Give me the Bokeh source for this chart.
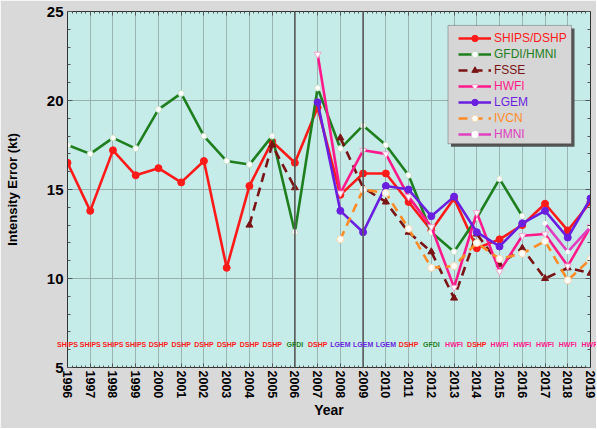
import math
from bokeh.plotting import figure
from bokeh.models import (Range1d, SingleIntervalTicker, LinearAxis, Legend, LegendItem,
                          BoxAnnotation, Span, CustomJSTickFormatter, Label)
from bokeh.embed import file_html
from bokeh.resources import INLINE

nan = float("nan")

years = list(range(1996, 2020))

ships_dshp = [16.5, 13.8, 17.2, 15.8, 16.2, 15.4, 16.6, 10.6, 15.2, 17.7, 16.5, 19.6,
              14.7, 15.9, 15.9, 14.3, 12.7, 14.5, 11.7, 12.2, 13.0, 14.2, 12.7, 14.3]
gfdi_hmni = [17.5, 17.0, 17.9, 17.3, 19.5, 20.4, 18.0, 16.6, 16.4, 18.0, 12.6, 20.7,
             17.3, 18.6, 17.5, 15.8, 12.6, 11.5, 13.4, 15.6, 13.5, nan, nan, nan]
fsse = [nan, nan, nan, nan, nan, nan, nan, nan, 13.0, 17.5, 15.1, nan,
        17.9, 15.1, 14.3, 12.6, 11.5, 8.9, 12.5, 10.8, 11.7, 10.0, 10.6, 10.3]
hwfi = [nan, nan, nan, nan, nan, nan, nan, nan, nan, nan, nan, 22.6,
        14.8, 17.2, 17.0, 14.6, 12.9, 9.5, 13.7, 10.4, 12.4, 12.5, 10.7, 12.9]
lgem = [nan, nan, nan, nan, nan, nan, nan, nan, nan, nan, nan, 19.9,
        13.8, 12.6, 15.2, 15.0, 13.5, 14.6, 12.6, 11.8, 13.1, 13.8, 12.3, 14.5]
ivcn = [nan, nan, nan, nan, nan, nan, nan, nan, nan, nan, nan, nan,
        12.2, 15.0, 14.8, 12.8, 10.6, 10.7, 12.0, 11.1, 11.4, 12.1, 9.9, 11.1]
hmni = [nan, nan, nan, nan, nan, nan, nan, nan, nan, nan, nan, nan,
        nan, nan, nan, nan, nan, nan, nan, nan, nan, 13.1, 11.5, 12.9]

best_model = ["SHIPS", "SHIPS", "SHIPS", "SHIPS", "DSHP", "DSHP", "DSHP", "DSHP", "DSHP",
              "DSHP", "GFDI", "DSHP", "LGEM", "LGEM", "LGEM", "DSHP", "GFDI", "HWFI",
              "DSHP", "HWFI", "HWFI", "HWFI", "HWFI", "HWFI"]
separator_years = [2006, 2009]

C_RED = "#ff1a1a"
C_GREEN = "#1f7f1f"
C_FSSE = "#7a1414"
C_HWFI = "#ff1a8c"
C_LGEM = "#6a1fe0"
C_IVCN = "#ff8c26"
C_HMNI = "#e040c0"
model_color = {"SHIPS": C_RED, "DSHP": C_RED, "GFDI": C_GREEN, "LGEM": C_LGEM, "HWFI": C_HWFI}

FONT = "Liberation Sans"

W, H = 596, 428
frame_left_page = 67.0
frame_right_page = 590.0
frame_top_page = 11.0
frame_bottom_page = 369.0

p = figure(width=W, height=H, x_range=Range1d(1996, 2019), y_range=Range1d(5, 25),
           output_backend="svg", toolbar_location=None,
           min_border_left=int(frame_left_page), min_border_right=int(W - frame_right_page),
           min_border_top=int(frame_top_page), min_border_bottom=int(H - frame_bottom_page))
p.background_fill_color = "#c6ece9"
p.border_fill_color = "#d9d9d9"
p.outline_line_color = "#333333"
p.outline_line_width = 1

xt = SingleIntervalTicker(interval=1, num_minor_ticks=5)
yt = SingleIntervalTicker(interval=5, num_minor_ticks=5)
p.xaxis.ticker = xt
p.yaxis.ticker = yt
p.xgrid.ticker = xt
p.ygrid.ticker = yt
p.xgrid.grid_line_color = "#9cb4b1"
p.ygrid.grid_line_color = "#98b0ad"
p.xgrid.grid_line_width = 1
p.ygrid.grid_line_width = 1

for ax in (p.xaxis[0], p.yaxis[0]):
    ax.major_tick_out = 0
    ax.minor_tick_out = 0
    ax.axis_line_color = "#333333"
    ax.major_tick_line_color = "#555555"
    ax.minor_tick_line_color = "#555555"
    ax.major_label_text_font = FONT
    ax.major_label_text_font_style = "bold"
    ax.major_label_text_color = "black"
    ax.axis_label_text_font = FONT
    ax.axis_label_text_font_style = "bold"
    ax.axis_label_text_color = "black"

p.xaxis.major_tick_in = 4
p.xaxis.minor_tick_in = 2
p.yaxis.major_tick_in = 5
p.yaxis.minor_tick_in = 3
p.xaxis.major_label_orientation = "vertical"
p.xaxis.major_label_text_font_size = "12.5px"
p.xaxis.major_label_standoff = 3
p.xaxis.axis_label = "Year"
p.xaxis.axis_label_text_font_size = "14px"
p.xaxis.axis_label_standoff = 1
p.yaxis.major_label_text_font_size = "15px"
p.yaxis.major_label_standoff = 4
p.yaxis.axis_label = "Intensity Error (kt)"
p.yaxis.axis_label_text_font_size = "13px"
p.yaxis.axis_label_standoff = 24

blank = CustomJSTickFormatter(code="return ''")
top_ax = LinearAxis(ticker=xt, formatter=blank, major_tick_in=4, major_tick_out=0,
                    minor_tick_in=2, minor_tick_out=0, major_label_standoff=0,
                    major_label_text_font_size="1px",
                    axis_line_color="#333333", major_tick_line_color="#555555",
                    minor_tick_line_color="#555555")
right_ax = LinearAxis(ticker=yt, formatter=blank, major_tick_in=5, major_tick_out=0,
                      minor_tick_in=3, minor_tick_out=0, major_label_standoff=0,
                      major_label_text_font_size="1px",
                      axis_line_color="#333333", major_tick_line_color="#555555",
                      minor_tick_line_color="#555555")
p.add_layout(top_ax, "above")
p.add_layout(right_ax, "right")

for yr in separator_years:
    p.add_layout(Span(location=yr, dimension="height", line_color="#5a5a5a", line_width=1.6))

LW = 2.6
r_ships_l = p.line(years, ships_dshp, line_color=C_RED, line_width=LW)
r_ships_s = p.scatter(years, ships_dshp, marker="circle", size=7, fill_color=C_RED, line_color=C_RED)

r_gfdi_l = p.line(years, gfdi_hmni, line_color=C_GREEN, line_width=LW)
r_gfdi_s = p.scatter(years, gfdi_hmni, marker="circle", size=6, fill_color="white", line_color="#c8e0c8", line_width=1)

r_fsse_l = p.line(years, fsse, line_color=C_FSSE, line_width=LW, line_dash="9 6")
r_fsse_s = p.scatter(years, fsse, marker="triangle", size=7, fill_color=C_FSSE, line_color=C_FSSE)

r_hwfi_l = p.line(years, hwfi, line_color=C_HWFI, line_width=LW)
r_hwfi_s = p.scatter(years, hwfi, marker="inverted_triangle", size=7, fill_color="white", line_color="#f4a0cc", line_width=1)

r_lgem_l = p.line(years, lgem, line_color=C_LGEM, line_width=LW)
r_lgem_s = p.scatter(years, lgem, marker="circle", size=7, fill_color=C_LGEM, line_color=C_LGEM)

r_ivcn_l = p.line(years, ivcn, line_color=C_IVCN, line_width=LW, line_dash="9 6")
r_ivcn_s = p.scatter(years, ivcn, marker="circle", size=7, fill_color="white", line_color="#f8d8b0", line_width=1)

r_hmni_l = p.line(years, hmni, line_color=C_HMNI, line_width=LW)
r_hmni_s = p.scatter(years, hmni, marker="circle", size=4, fill_color="white", line_color="white")

n = len(years)
for i, (yr, m) in enumerate(zip(years, best_model)):
    lab = Label(x=yr, y=6.3, text=m, text_color=model_color[m],
                text_font=FONT, text_font_style="bold", text_font_size="7px",
                text_align="center", text_baseline="middle")
    # edge labels spill past the frame, as in the original; side-panel annotations are not clipped
    if i == 0:
        p.add_layout(lab, "below")
    elif i == n - 1:
        p.add_layout(lab, "above")
    else:
        p.add_layout(lab, "center")

# legend box (page coords -> data coords)
xpp = (frame_right_page - frame_left_page) / 23.0
ypp = (frame_bottom_page - frame_top_page) / 20.0
def dx(px):
    return 1996 + (px - frame_left_page) / xpp
def dy(py):
    return 5 + (frame_bottom_page - py) / ypp

p.add_layout(BoxAnnotation(left=dx(450.5), right=dx(574), top=dy(28), bottom=dy(147),
                           fill_color="#555555", fill_alpha=1, line_alpha=0, level="annotation"))
p.add_layout(BoxAnnotation(left=dx(447.5), right=dx(571), top=dy(25), bottom=dy(144),
                           fill_color="#d6d6d6", fill_alpha=1, line_color="#222222", line_width=1,
                           level="annotation"))

entries = [("SHIPS/DSHP", C_RED, [r_ships_l, r_ships_s]),
           ("GFDI/HMNI", C_GREEN, [r_gfdi_l, r_gfdi_s]),
           ("FSSE", C_FSSE, [r_fsse_l, r_fsse_s]),
           ("HWFI", C_HWFI, [r_hwfi_l, r_hwfi_s]),
           ("LGEM", C_LGEM, [r_lgem_l, r_lgem_s]),
           ("IVCN", C_IVCN, [r_ivcn_l, r_ivcn_s]),
           ("HMNI", C_HMNI, [r_hmni_l, r_hmni_s])]
for i, (lab, col, rends) in enumerate(entries):
    bottom_page = 48 + 16 * i
    leg = Legend(items=[LegendItem(label=lab, renderers=rends)],
                 location=(int(458 - frame_left_page), int(frame_bottom_page - bottom_page)),
                 label_text_color=col, label_text_font=FONT, label_text_font_size="12px",
                 background_fill_alpha=0, border_line_alpha=0, padding=0, margin=0,
                 spacing=0, glyph_width=33, glyph_height=16, label_height=16,
                 label_standoff=3)
    p.add_layout(leg, "center")

open("out.html", "w").write(file_html(p, INLINE))
